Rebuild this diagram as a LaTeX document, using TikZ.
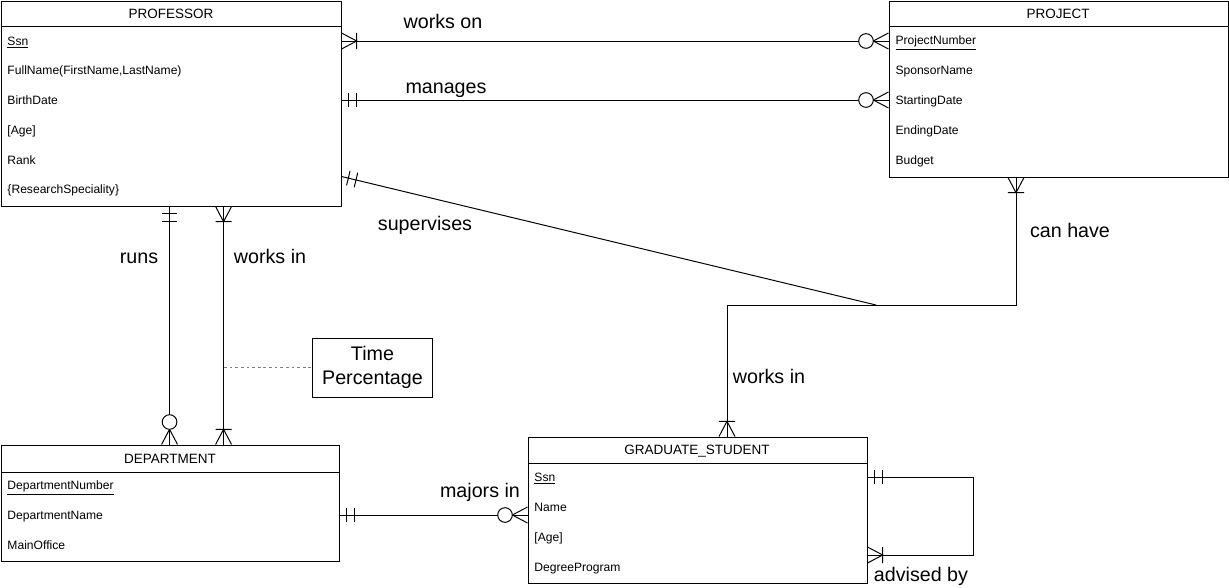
\documentclass[tikz,border=0pt]{standalone}
\usepackage{fontspec}
\setmainfont{Liberation Sans}
\usetikzlibrary{fit}

% ER end markers (crow's foot notation)
\pgfdeclarearrow{
  name = onemany,
  setup code = {
    \pgfarrowssettipend{0pt}
    \pgfarrowssetlineend{0pt}
    \pgfarrowssetbackend{-11pt}
  },
  drawing code = {
    \pgfpathmoveto{\pgfqpoint{0pt}{5.7pt}}
    \pgfpathlineto{\pgfqpoint{-10.8pt}{0pt}}
    \pgfpathlineto{\pgfqpoint{0pt}{-5.7pt}}
    \pgfpathmoveto{\pgfqpoint{-10.8pt}{5.7pt}}
    \pgfpathlineto{\pgfqpoint{-10.8pt}{-5.7pt}}
    \pgfusepathqstroke
  }
}
\pgfdeclarearrow{
  name = zeromany,
  setup code = {
    \pgfarrowssettipend{0pt}
    \pgfarrowssetlineend{0pt}
    \pgfarrowssetbackend{-21.5pt}
  },
  drawing code = {
    \pgfpathmoveto{\pgfqpoint{0pt}{5.7pt}}
    \pgfpathlineto{\pgfqpoint{-10.8pt}{0pt}}
    \pgfpathlineto{\pgfqpoint{0pt}{-5.7pt}}
    \pgfusepathqstroke
    \pgfsetfillcolor{white}
    \pgfpathcircle{\pgfqpoint{-16pt}{0pt}}{5.2pt}
    \pgfusepathqfillstroke
  }
}
\pgfdeclarearrow{
  name = mandone,
  setup code = {
    \pgfarrowssettipend{0pt}
    \pgfarrowssetlineend{0pt}
    \pgfarrowssetbackend{-11pt}
  },
  drawing code = {
    \pgfpathmoveto{\pgfqpoint{-5pt}{5.3pt}}
    \pgfpathlineto{\pgfqpoint{-5pt}{-5.3pt}}
    \pgfpathmoveto{\pgfqpoint{-10.6pt}{5.3pt}}
    \pgfpathlineto{\pgfqpoint{-10.6pt}{-5.3pt}}
    \pgfusepathqstroke
  }
}

\begin{document}
\begin{tikzpicture}[x=0.025cm, y=-0.025cm, line width=0.7pt,
    entity/.style={draw, inner sep=0pt},
    title/.style={font=\fontsize{9.6}{11}\selectfont},
    attr/.style={anchor=west, inner sep=0pt, text height=1.5ex, text depth=.25ex,
        font=\fontsize{8.6}{10}\selectfont},
    rel/.style={anchor=base, inner sep=0pt, font=\fontsize{14}{17}\selectfont}]
    \useasboundingbox (0,0) rectangle (1229,587);

    % PROFESSOR
    \node[entity, fit={(1,1) (341,206)}] (prof) {};
    \draw (1,26) -- (341,26);
    \node[title] (proftitle) at (171,14) {PROFESSOR};
    \node[attr] (profssn) at (7,41) {\underline{Ssn}};
    \node[attr] (profname) at (7,70) {FullName(FirstName,LastName)};
    \node[attr] (profbirth) at (7,100) {BirthDate};
    \node[attr] (profage) at (7,130) {[Age]};
    \node[attr] (profrank) at (7,160) {Rank};
    \node[attr] (profspec) at (7,189) {\{ResearchSpeciality\}};

    % PROJECT
    \node[entity, fit={(889,1) (1228,177)}] (proj) {};
    \draw (889,26) -- (1228,26);
    \node[title] (projtitle) at (1058,14) {PROJECT};
    \node[attr] (projnum) at (895,40) {\underline{ProjectNumber}};
    \node[attr] (projsponsor) at (895,70) {SponsorName};
    \node[attr] (projstart) at (895,100) {StartingDate};
    \node[attr] (projend) at (895,130) {EndingDate};
    \node[attr] (projbudget) at (895,160) {Budget};

    % DEPARTMENT
    \node[entity, fit={(1,445) (339,561)}] (dept) {};
    \draw (1,472) -- (339,472);
    \node[title] (depttitle) at (170,459) {DEPARTMENT};
    \node[attr] (deptnum) at (7,485) {\underline{DepartmentNumber}};
    \node[attr] (deptname) at (7,515) {DepartmentName};
    \node[attr] (deptoffice) at (7,545) {MainOffice};

    % GRADUATE_STUDENT
    \node[entity, fit={(528,437) (867,583)}] (grad) {};
    \draw (528,463) -- (867,463);
    \node[title] (gradtitle) at (697,451) {GRADUATE\_STUDENT};
    \node[attr] (gradssn) at (534,477) {\underline{Ssn}};
    \node[attr] (gradname) at (534,507) {Name};
    \node[attr] (gradage) at (534,537) {[Age]};
    \node[attr] (graddeg) at (534,567) {DegreeProgram};

    % relationship attribute
    \node[draw, inner sep=0pt, minimum width=2.975cm, minimum height=1.475cm,
        align=center, font=\fontsize{14}{17}\selectfont] (timepct) at (372.5,367.5)
        {\raisebox{-2pt}{Time}\\\raisebox{-2pt}{Percentage}};

    % corners of the ternary link
    \coordinate (jr) at (1016,305);
    \coordinate (jl) at (727,305);
    \coordinate (jsup) at (876,305);
    \coordinate (wimid) at (224,367.5);

    % works on / manages
    \draw[onemany-zeromany] (profssn -| prof.east) -- (profssn -| proj.west);
    \node[rel] (workson) at (443,28) {works on};
    \draw[mandone-zeromany] (profbirth -| prof.east) -- (profbirth -| proj.west);
    \node[rel] (manages) at (446,93) {manages};

    % runs / works in
    \draw[mandone-zeromany] ([xshift=4.225cm]prof.south west) -- ([xshift=4.225cm]dept.north west);
    \node[rel] (runs) at (139,263) {runs};
    \draw[onemany-onemany] ([xshift=5.575cm]prof.south west) -- ([xshift=5.575cm]dept.north west);
    \node[rel] (worksin) at (270,263) {works in};
    \draw[gray, dash pattern=on 2pt off 2pt] (wimid) -- (timepct);

    % supervises / can have / works in
    \draw[onemany-onemany] (proj.south -| jr) -- (jr) -- (jl) -- (grad.north -| jl);
    \draw[mandone-] ([yshift=0.75cm]prof.south east) -- (jsup);
    \node[rel] (supervises) at (425,230) {supervises};
    \node[rel] (canhave) at (1070,237) {can have};
    \node[rel] (gradworks) at (769,383) {works in};

    % majors in
    \draw[mandone-zeromany] (deptname -| dept.east) -- (deptname -| grad.west);
    \node[rel] (majors) at (480,497) {majors in};

    % advised by
    \draw[mandone-onemany] (gradssn -| grad.east) -- ++(106,0) |- ([yshift=-1.125cm]grad.east);
    \node[rel] (advised) at (921,581) {advised by};
\end{tikzpicture}
\end{document}
